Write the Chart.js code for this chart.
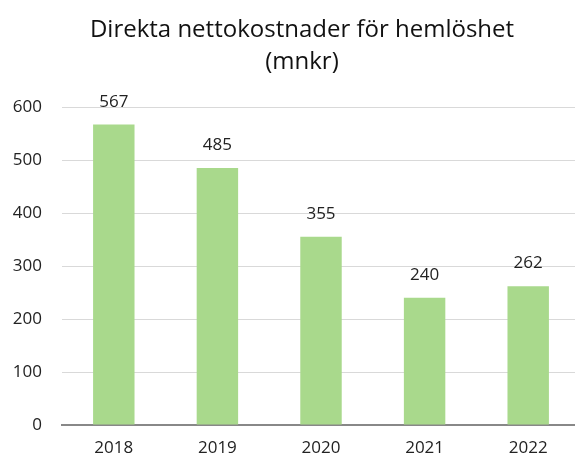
<!DOCTYPE html>
<html>
<head>
<meta charset="utf-8">
<script src="https://cdn.jsdelivr.net/npm/chart.js@4"></script>
<style>
  html, body { margin: 0; padding: 0; background: #fff; overflow: hidden; }
  #wrap { width: 604px; height: 461px; }
</style>
</head>
<body>
<div id="wrap"><canvas id="chartFirst"></canvas></div>
<script>
const years = ['2018', '2019', '2020', '2021', '2022'];
const costs = [567, 485, 355, 240, 262];
const titleLines = ['Direkta nettokostnader för hemlöshet', '(mnkr)'];

// labels above each bar
const barLabels = {
  id: 'barLabels',
  afterDatasetsDraw(chart) {
    const ctx = chart.ctx;
    const meta = chart.getDatasetMeta(0);
    ctx.save();
    ctx.font = '17px "Open Sans"';
    ctx.fillStyle = '#222';
    ctx.textAlign = 'center';
    ctx.textBaseline = 'bottom';
    meta.data.forEach(function (bar, i) {
      ctx.fillText(costs[i], bar.x, bar.y - 14);
    });
    ctx.restore();
  }
};

// two-line title, centred a bit right of the canvas middle
const chartTitle = {
  id: 'chartTitle',
  afterDraw(chart) {
    const ctx = chart.ctx;
    ctx.save();
    ctx.font = '24px "Open Sans"';
    ctx.fillStyle = '#111';
    ctx.textAlign = 'center';
    ctx.textBaseline = 'middle';
    titleLines.forEach(function (line, i) {
      ctx.fillText(line, 302, 30 + i * 32);
    });
    ctx.restore();
  }
};

window.onload = function () {
  const ctx = document.getElementById('chartFirst').getContext('2d');
  new Chart(ctx, {
    type: 'bar',
    data: {
      labels: years,
      datasets: [{
        data: costs,
        backgroundColor: '#a9d98c',
        barPercentage: 0.4,
        categoryPercentage: 1
      }]
    },
    plugins: [barLabels, chartTitle],
    options: {
      responsive: true,
      maintainAspectRatio: false,
      animation: false,
      layout: { padding: { left: 0, right: 24, top: 107, bottom: 0 } },
      plugins: {
        legend: { display: false },
        tooltip: { enabled: false },
        title: { display: false }
      },
      scales: {
        x: {
          grid: { display: false, drawTicks: false },
          border: { color: '#888', width: 2 },
          ticks: { color: '#222', font: { family: 'Open Sans', size: 17 }, padding: 13 },
          afterFit: function (scale) { scale.height = 36; }
        },
        y: {
          min: 0,
          max: 600,
          ticks: { stepSize: 100, color: '#222', font: { family: 'Open Sans', size: 17 }, padding: 20 },
          grid: { color: '#d9d9d9', lineWidth: 1, drawTicks: false },
          border: { display: false },
          afterFit: function (scale) { scale.width = 62; }
        }
      }
    }
  });
};
</script>
</body>
</html>
